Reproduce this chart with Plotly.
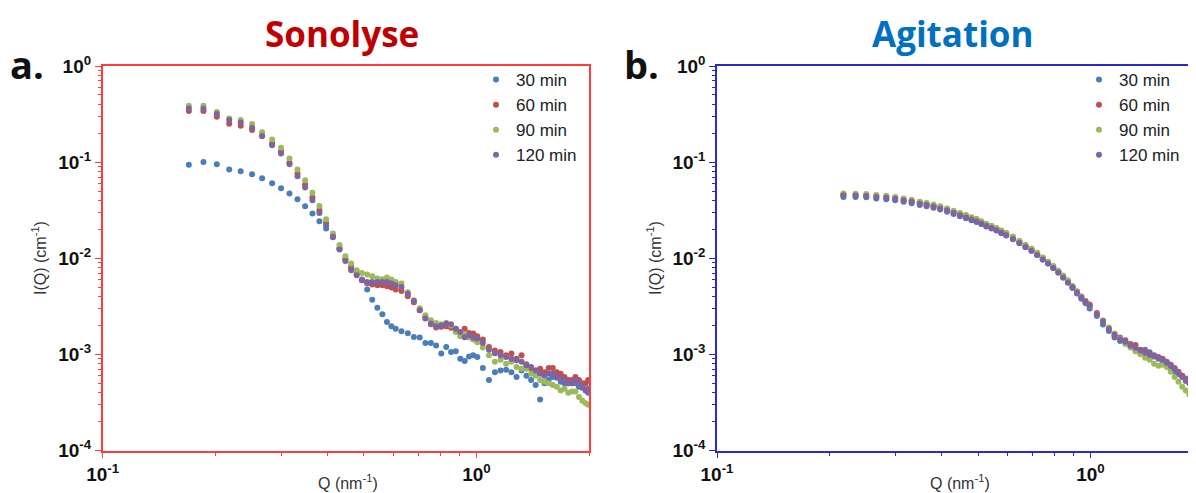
import plotly.graph_objects as go

# ---------------- Data: Sonolyse (panel a) ----------------
q_sono = [0.170, 0.186, 0.202, 0.218, 0.234, 0.251, 0.267, 0.284, 0.300, 0.316,
          0.332, 0.348, 0.364, 0.380, 0.396, 0.413, 0.430, 0.446, 0.462, 0.478,
          0.494, 0.510, 0.526, 0.543, 0.560, 0.576, 0.592, 0.608, 0.630, 0.655,
          0.680, 0.705, 0.730, 0.755, 0.780, 0.805, 0.830, 0.855, 0.880, 0.905,
          0.930, 0.955, 0.980, 1.005, 1.04, 1.08, 1.12, 1.16, 1.20, 1.24,
          1.28, 1.32, 1.36, 1.40, 1.44, 1.48, 1.52, 1.56, 1.60, 1.64,
          1.68, 1.72, 1.76, 1.80, 1.84, 1.88, 1.92, 1.96, 1.99]

sono_30 = [0.0937, 0.100, 0.095, 0.084, 0.0806, 0.075, 0.068, 0.0604, 0.0536, 0.0472,
           0.0412, 0.0348, 0.0292, 0.0243, 0.0204, 0.0165, 0.0125, 0.0097, 0.0082, 0.0072,
           0.0060, 0.00472, 0.00371, 0.00306, 0.00261, 0.00217, 0.00196, 0.00185, 0.00174, 0.00166,
           0.00152, 0.00150, 0.00131, 0.00131, 0.00124, 0.00102, 0.00119, 0.00106, 0.00108, 0.000902,
           0.000851, 0.000953, 0.000977, 0.00094, 0.00072, 0.00054, 0.00065, 0.00068, 0.00069, 0.00065,
           0.00058, 0.00068, 0.00060, 0.00054, 0.00048, 0.00034, 0.00050, 0.00054, 0.00058, 0.00057,
           0.00052, 0.00050, 0.00050, 0.00050, 0.00050, 0.00046, 0.00045, 0.00042, 0.00040]

sono_60 = [0.340, 0.340, 0.296, 0.250, 0.239, 0.216, 0.187, 0.157, 0.130, 0.099,
           0.0762, 0.0586, 0.0429, 0.0316, 0.0233, 0.0172, 0.0128, 0.0098, 0.00781, 0.0069,
           0.0059, 0.0055, 0.00532, 0.00523, 0.00523, 0.0051, 0.00495, 0.00472, 0.00456, 0.00402,
           0.00348, 0.00287, 0.00245, 0.00206, 0.0019, 0.00194, 0.00196, 0.00189, 0.00185, 0.00165,
           0.00185, 0.00167, 0.00165, 0.00154, 0.00143, 0.00119, 0.0011, 0.00106, 0.00098, 0.00102,
           0.0009, 0.00098, 0.00079, 0.00071, 0.00068, 0.00071, 0.00065, 0.00072, 0.00072, 0.00065,
           0.00063, 0.00058, 0.00054, 0.00054, 0.00058, 0.00054, 0.0005, 0.0005, 0.00054]

sono_90 = [0.386, 0.386, 0.332, 0.285, 0.274, 0.249, 0.205, 0.172, 0.141, 0.109,
           0.0839, 0.0649, 0.048, 0.035, 0.0255, 0.0181, 0.0137, 0.0105, 0.0088, 0.0075,
           0.00703, 0.00676, 0.0065, 0.00615, 0.00605, 0.0063, 0.0060, 0.00567, 0.00545, 0.00442,
           0.00365, 0.00302, 0.00255, 0.00226, 0.00212, 0.00206, 0.00212, 0.0020, 0.00171, 0.00154,
           0.00161, 0.0015, 0.00143, 0.00134, 0.00118, 0.00098, 0.00084, 0.00088, 0.0008, 0.00084,
           0.00074, 0.00071, 0.00071, 0.00063, 0.0006, 0.00054, 0.00052, 0.0005, 0.00048, 0.00046,
           0.00042, 0.00044, 0.0004, 0.00041, 0.00041, 0.00036, 0.00033, 0.00031, 0.0003]

sono_120 = [0.362, 0.362, 0.316, 0.274, 0.259, 0.228, 0.187, 0.150, 0.123, 0.0953,
            0.0715, 0.0545, 0.0402, 0.0296, 0.0221, 0.0167, 0.0123, 0.00937, 0.0075, 0.00665,
            0.0059, 0.00567, 0.00567, 0.00567, 0.00567, 0.00567, 0.00545, 0.00523, 0.00502, 0.00427,
            0.0036, 0.00287, 0.00236, 0.00209, 0.00196, 0.002, 0.00209, 0.00206, 0.00185, 0.00171,
            0.00151, 0.00158, 0.0015, 0.00146, 0.00131, 0.00112, 0.00103, 0.00098, 0.00094, 0.0009,
            0.00087, 0.00084, 0.00077, 0.00074, 0.00068, 0.00063, 0.0006, 0.00063, 0.00063, 0.00058,
            0.00056, 0.00054, 0.0005, 0.0005, 0.00054, 0.0005, 0.00046, 0.00042, 0.00044]

# ---------------- Data: Agitation (panel b) ----------------
q_agit = [0.218, 0.235, 0.251, 0.267, 0.284, 0.300, 0.316, 0.332, 0.349, 0.364,
          0.380, 0.396, 0.413, 0.430, 0.447, 0.464, 0.480, 0.495, 0.510, 0.526,
          0.543, 0.560, 0.577, 0.595, 0.620, 0.645, 0.670, 0.695, 0.720, 0.745,
          0.770, 0.795, 0.820, 0.845, 0.870, 0.895, 0.920, 0.945, 0.970, 0.995,
          1.04, 1.08, 1.12, 1.16, 1.20, 1.24, 1.28, 1.32, 1.36, 1.40,
          1.44, 1.48, 1.52, 1.56, 1.60, 1.64, 1.68, 1.72, 1.76, 1.80,
          1.84, 1.88, 1.92]

agit_30 = [0.0435, 0.0433, 0.0430, 0.0418, 0.0411, 0.0402, 0.0386, 0.0374, 0.0358, 0.0348,
           0.0335, 0.0321, 0.0305, 0.0289, 0.0274, 0.0261, 0.0249, 0.0239, 0.0227, 0.0214,
           0.0204, 0.0194, 0.0182, 0.0172, 0.0158, 0.0143, 0.0130, 0.0120, 0.0108, 0.0097,
           0.0088, 0.0079, 0.0071, 0.0063, 0.0056, 0.0049, 0.0043, 0.0038, 0.0034, 0.0030,
           0.0025, 0.00205, 0.00175, 0.00150, 0.00138, 0.00132, 0.00122, 0.00110, 0.00104, 0.00112,
           0.00105, 0.00098, 0.00090, 0.00084, 0.00078, 0.00070, 0.00066, 0.00062, 0.00060, 0.00056,
           0.00052, 0.00046, 0.00043]

agit_60 = [0.0462, 0.0460, 0.0455, 0.0444, 0.0436, 0.0426, 0.0410, 0.0397, 0.0380, 0.0369,
           0.0354, 0.0341, 0.0325, 0.0308, 0.0292, 0.0278, 0.0264, 0.0253, 0.0240, 0.0226,
           0.0216, 0.0204, 0.0192, 0.0181, 0.0166, 0.0150, 0.0136, 0.0125, 0.0112, 0.0101,
           0.0091, 0.0082, 0.0073, 0.0065, 0.0058, 0.0051, 0.0045, 0.0040, 0.0036, 0.0033,
           0.0027, 0.00225, 0.00186, 0.00158, 0.00150, 0.00140, 0.00128, 0.00125, 0.00112, 0.00108,
           0.00100, 0.00096, 0.00094, 0.00090, 0.00084, 0.00078, 0.00072, 0.00066, 0.00060, 0.00054,
           0.00050, 0.00048, 0.00045]

agit_90 = [0.0472, 0.0470, 0.0466, 0.0455, 0.0446, 0.0435, 0.0419, 0.0405, 0.0388, 0.0376,
           0.0362, 0.0347, 0.0330, 0.0312, 0.0295, 0.0281, 0.0267, 0.0257, 0.0243, 0.0229,
           0.0218, 0.0207, 0.0194, 0.0184, 0.0168, 0.0151, 0.0138, 0.0126, 0.0114, 0.0102,
           0.0092, 0.0083, 0.0074, 0.0066, 0.0059, 0.0051, 0.0045, 0.0040, 0.0035, 0.0032,
           0.0026, 0.00222, 0.00190, 0.00165, 0.00146, 0.00128, 0.00118, 0.00108, 0.00100, 0.00092,
           0.00088, 0.00080, 0.00076, 0.00078, 0.00074, 0.00066, 0.00058, 0.00052, 0.00046, 0.00042,
           0.00038, 0.00035, 0.00033]

agit_120 = [0.0452, 0.0450, 0.0444, 0.0433, 0.0425, 0.0415, 0.0399, 0.0386, 0.0369, 0.0358,
            0.0344, 0.0330, 0.0313, 0.0296, 0.0280, 0.0266, 0.0253, 0.0243, 0.0230, 0.0217,
            0.0207, 0.0196, 0.0184, 0.0174, 0.0159, 0.0144, 0.0131, 0.0120, 0.0108, 0.0097,
            0.0088, 0.0079, 0.0071, 0.0063, 0.0056, 0.0050, 0.0044, 0.0039, 0.0035, 0.0032,
            0.0026, 0.0022, 0.00184, 0.00160, 0.00144, 0.00135, 0.00124, 0.00117, 0.00110, 0.00104,
            0.00099, 0.00095, 0.00092, 0.00088, 0.00082, 0.00076, 0.00070, 0.00064, 0.00058, 0.00053,
            0.00050, 0.00047, 0.00044]

series_names = ["30 min", "60 min", "90 min", "120 min"]
series_colors = ["#4A7EBB", "#C0504D", "#9BBB59", "#8064A2"]
sono_sets = [sono_30, sono_60, sono_90, sono_120]
agit_sets = [agit_30, agit_60, agit_90, agit_120]

y_ticks = [1e-4, 1e-3, 1e-2, 1e-1, 1]
y_ticktext = ["<b>10<sup>-4</sup></b>", "<b>10<sup>-3</sup></b>", "<b>10<sup>-2</sup></b>",
              "<b>10<sup>-1</sup></b>", "<b>10<sup>0</sup></b>"]
x_ticks = [0.1, 1]
x_ticktext = ["<b>10<sup>-1</sup></b>", "<b>10<sup>0</sup></b>"]
y_minor = [m * 10.0 ** e for e in (-4, -3, -2, -1) for m in range(2, 10)]
x_minor = [0.2, 0.3, 0.4, 0.5, 0.6, 0.7, 0.8, 0.9, 2.0]

FONT = "Liberation Sans, Arial, sans-serif"
TITLE_FONT = "Open Sans, sans-serif"
RED_AX = "#FF3B3B"
BLUE_AX = "#2B2BC8"

# The page body adds an 8 px margin; lay out in screen pixels and convert.
OFF = 8
W, H = 1196 - OFF, 493 - OFF


def fx(x):
    return (x - OFF) / W


def fy(y):
    return 1 - (y - OFF) / H


fig = go.Figure()

# draw order: 30, 60, 90, 120 (120 on top)
for name, color, ys in zip(series_names, series_colors, sono_sets):
    fig.add_trace(go.Scatter(x=q_sono, y=ys, mode="markers", name=name,
                             marker=dict(color=color, size=6, line=dict(width=0)),
                             xaxis="x", yaxis="y", legend="legend"))
for name, color, ys in zip(series_names, series_colors, agit_sets):
    fig.add_trace(go.Scatter(x=q_agit, y=ys, mode="markers", name=name,
                             marker=dict(color=color, size=6, line=dict(width=0)),
                             xaxis="x2", yaxis="y2", legend="legend2"))

dom_y = [fy(450.5), fy(66)]


def xaxis_cfg(color, dom, rng, mirror):
    return dict(type="log", domain=dom, range=rng, automargin=False,
                showline=True, linecolor=color, linewidth=1.5, mirror=mirror,
                ticks="outside", ticklen=6, tickwidth=1.3, tickcolor=color,
                tickvals=x_ticks, ticktext=x_ticktext,
                tickfont=dict(family=FONT, size=19, color="#111"),
                minor=dict(tickvals=x_minor, ticks="outside", ticklen=4,
                           tickwidth=1.1, tickcolor=color, showgrid=False),
                showgrid=False, zeroline=False)


def yaxis_cfg(color, mirror):
    return dict(type="log", domain=dom_y, range=[-4, 0], automargin=False,
                showline=True, linecolor=color, linewidth=1.5, mirror=mirror,
                ticks="outside", ticklen=6, tickwidth=1.3, tickcolor=color,
                tickvals=y_ticks, ticktext=y_ticktext,
                tickfont=dict(family=FONT, size=19, color="#111"),
                minor=dict(tickvals=y_minor, ticks="outside", ticklen=3,
                           tickwidth=1.1, tickcolor=color, showgrid=False),
                showgrid=False, zeroline=False)


xl = xaxis_cfg(RED_AX, [fx(102.7), fx(589)], [-1, 0.30103], True)
xl["anchor"] = "y"
xr = xaxis_cfg(BLUE_AX, [fx(717), 1.0], [-1, 0.2825], True)
xr["anchor"] = "y2"
yl = yaxis_cfg(RED_AX, True)
yl["anchor"] = "x"
yr = yaxis_cfg(BLUE_AX, False)
yr["anchor"] = "x2"

legend_common = dict(xanchor="left", yanchor="top", bgcolor="rgba(0,0,0,0)",
                     font=dict(family=FONT, size=17, color="#222"),
                     tracegroupgap=0, itemwidth=30)

fig.update_layout(
    width=W, height=H, autosize=False,
    margin=dict(l=0, r=0, t=0, b=0, pad=0, autoexpand=False),
    paper_bgcolor="white", plot_bgcolor="white",
    xaxis=xl, yaxis=yl, xaxis2=xr, yaxis2=yr,
    legend=dict(x=fx(476), y=fy(62), **legend_common),
    legend2=dict(x=fx(1079), y=fy(62), **legend_common),
    showlegend=True,
)


def ann(text, x, y, size, color, family, angle=0):
    return dict(text=text, x=fx(x), y=fy(y), xref="paper", yref="paper",
                xanchor="center", yanchor="middle", textangle=angle,
                showarrow=False, font=dict(family=family, size=size, color=color))


annotations = [
    ann("<b>Sonolyse</b>", 342, 33, 35, "#C00000", TITLE_FONT),
    ann("<b>Agitation</b>", 952, 33, 35, "#0070C0", TITLE_FONT),
    ann("<b>a.</b>", 27, 64, 38, "#111", TITLE_FONT),
    ann("<b>b.</b>", 641, 64, 38, "#111", TITLE_FONT),
    ann("I(Q) (cm<sup>-1</sup>)", 39, 258, 16, "#333", FONT, angle=-90),
    ann("I(Q) (cm<sup>-1</sup>)", 654, 258, 16, "#333", FONT, angle=-90),
    ann("Q (nm<sup>-1</sup>)", 348, 482, 16, "#333", FONT),
    ann("Q (nm<sup>-1</sup>)", 960, 482, 16, "#333", FONT),
]
fig.update_layout(annotations=annotations)

fig.write_html("out.html")
